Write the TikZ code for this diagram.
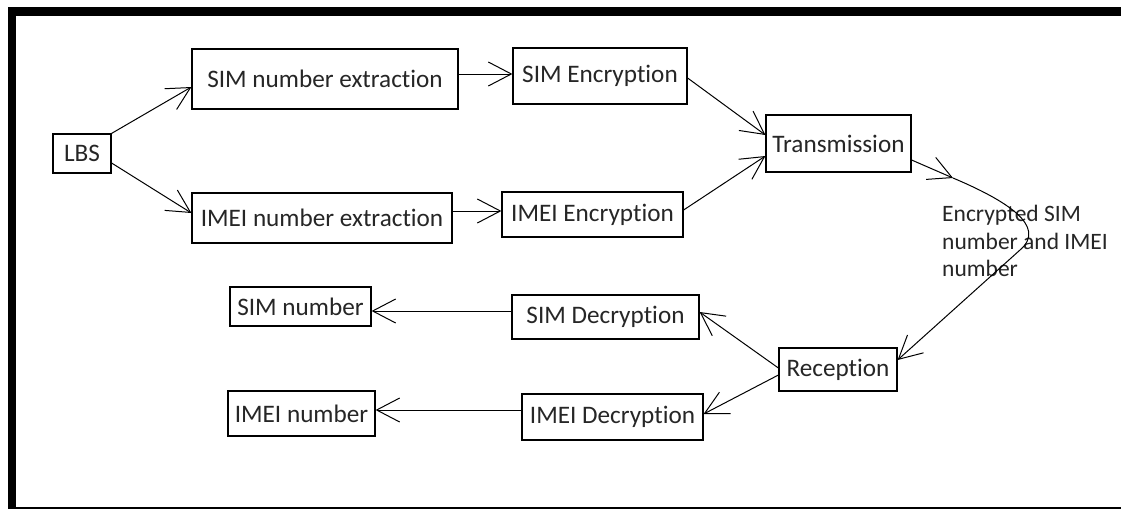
\documentclass[tikz,border=0pt]{standalone}
\usepackage{fontspec}
\setmainfont{Carlito}[Ligatures=NoCommon]
\usetikzlibrary{arrows.meta}
\tikzset{
  box/.style={draw=black, line width=1.2pt, inner sep=0pt, align=center,
    font=\fontsize{25.2}{29}\selectfont, text=black!85},
  arr/.style={draw=black, line width=1pt, -{Straight Barb[length=23pt,width=24pt,line width=1pt]}},
  lbl/.style={inner sep=0pt, align=left, font=\fontsize{23.5}{27.5}\selectfont, text=black!85}
}
\begin{document}
\begin{tikzpicture}[x=1pt,y=-1pt]
\useasboundingbox (0,0) rectangle (1121,509);
\fill[white] (0,0) rectangle (1121,509);
% frame
\fill[black] (8,7) rectangle (1121,16);
\fill[black] (8,7) rectangle (16,509);
\draw[line width=2pt] (16,507.5) -- (1121,507.5);

% nodes
\node[box, minimum width=58pt, minimum height=39pt] (lbs) at (82,153.5) {LBS};
\node[box, minimum width=266pt, minimum height=60pt] (sne) at (325,79) {SIM number extraction};
\node[box, minimum width=174pt, minimum height=56pt] (senc) at (600,76) {SIM Encryption};
\node[box, minimum width=260pt, minimum height=50pt] (ine) at (322,218) {IMEI number extraction};
\node[box, minimum width=181pt, minimum height=45pt] (ienc) at (592.5,214.5) {IMEI Encryption};
\node[box, minimum width=145pt, minimum height=57pt] (trans) at (838.5,143.5) {Transmission};
\node[box, minimum width=141pt, minimum height=39pt] (simn) at (300.5,306.5) {SIM number};
\node[box, minimum width=187pt, minimum height=44pt] (sdec) at (605.5,317) {SIM Decryption};
\node[box, minimum width=147pt, minimum height=45pt] (imein) at (301.5,413.5) {IMEI number};
\node[box, minimum width=181pt, minimum height=46pt] (idec) at (612.5,417) {IMEI Decryption};
\node[box, minimum width=118pt, minimum height=43pt] (rec) at (838,369.5) {Reception};

\node[lbl, anchor=north west] (enc) at (942,205) {Encrypted SIM\\number and IMEI\\number};

\coordinate (m) at (953,178);

% connectors
\draw[arr] (lbs.north east) -- (sne.west |- 0,87);
\draw[arr] (lbs.east |- 0,163) -- (ine.west |- 0,213);
\draw[arr] (sne.east |- 0,74) -- (senc.west |- 0,74);
\draw[arr] (ine.east |- 0,211) -- (ienc.west |- 0,211);
\draw[arr] (senc.east |- 0,78) -- (trans.west |- 0,135);
\draw[arr] (ienc.east |- 0,210) -- (trans.west |- 0,156);
\draw[arr] (trans.east |- 0,160) -- (m);
\draw[arr] (m) .. controls (1005,200) and (1048,226) .. (1020,250) -- (rec.east |- 0,360);
\draw[arr] (rec.west |- 0,368) -- (sdec.east |- 0,312);
\draw[arr] (rec.west |- 0,375) -- (idec.east |- 0,414);
\draw[arr] (sdec.west |- 0,311) -- (simn.east |- 0,311);
\draw[arr] (idec.west |- 0,410) -- (imein.east |- 0,410);
\end{tikzpicture}
\end{document}
